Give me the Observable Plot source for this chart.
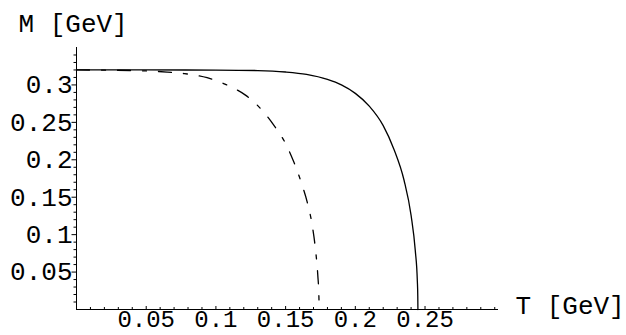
<!DOCTYPE html>
<html>
<head>
<meta charset="utf-8">
<script src="https://cdn.jsdelivr.net/npm/d3@7"></script>
<script src="https://cdn.jsdelivr.net/npm/@observablehq/plot@0.6"></script>
<style>
  html, body { margin: 0; padding: 0; background: white; }
  svg { display: block; }
</style>
</head>
<body>
<div id="chart"></div>
<script>
// Solid curve: T [GeV] -> M [GeV]
const solidT = [0, 0.05, 0.10, 0.13, 0.15, 0.165, 0.18, 0.19, 0.20, 0.21, 0.22, 0.2276, 0.235, 0.24, 0.243, 0.2445, 0.2448, 0.2449];
const solidM = [0.32, 0.32, 0.3198, 0.3192, 0.3173, 0.314, 0.3073, 0.300, 0.2887, 0.2717, 0.2457, 0.2145, 0.1723, 0.1257, 0.079, 0.0375, 0.018, 0];
// Dash-dot curve
const dashT = [0, 0.02, 0.04, 0.055, 0.065, 0.077, 0.0937, 0.108, 0.1212, 0.132, 0.1415, 0.15, 0.1559, 0.1619, 0.1655, 0.1691, 0.1714, 0.1731, 0.1738, 0.1741];
const dashM = [0.32, 0.3198, 0.3192, 0.3183, 0.3172, 0.3152, 0.3097, 0.2998, 0.2864, 0.2685, 0.2462, 0.2216, 0.197, 0.1658, 0.1434, 0.1122, 0.0808, 0.0452, 0.022, 0];

// Ticks
const xTicks = [0.05, 0.1, 0.15, 0.2, 0.25];
const xTickLabels = ["0.05", "0.1", "0.15", "0.2", "0.25"];
const yTicks = [0.05, 0.1, 0.15, 0.2, 0.25, 0.3];
const yTickLabels = ["0.05", "0.1", "0.15", "0.2", "0.25", "0.3"];
const xMinor = [0.01, 0.02, 0.03, 0.04, 0.06, 0.07, 0.08, 0.09, 0.11, 0.12, 0.13, 0.14, 0.16, 0.17, 0.18, 0.19, 0.21, 0.22, 0.23, 0.24, 0.26, 0.27, 0.28, 0.29, 0.3];
const yMinor = [0.01, 0.02, 0.03, 0.04, 0.06, 0.07, 0.08, 0.09, 0.11, 0.12, 0.13, 0.14, 0.16, 0.17, 0.18, 0.19, 0.21, 0.22, 0.23, 0.24, 0.26, 0.27, 0.28, 0.29, 0.31, 0.32, 0.33, 0.34];

const xLabel = "T [GeV]";
const yLabel = "M [GeV]";

const solid = solidT.map((t, i) => ({T: t, M: solidM[i]}));
const dashed = dashT.map((t, i) => ({T: t, M: dashM[i]}));

const W = 626, H = 335;
const mL = 76, mR = 128, mT = 47, mB = 26;
const pw = W - mL - mR, ph = H - mT - mB;
const font = "'Liberation Mono', 'DejaVu Sans Mono', monospace";

const chart = Plot.plot({
  width: W,
  height: H,
  marginLeft: mL,
  marginRight: mR,
  marginTop: mT,
  marginBottom: mB,
  x: {domain: [0, 0.3027]},
  y: {domain: [0, 0.35]},
  style: {fontFamily: font, fontSize: "26px", background: "white", overflow: "visible", color: "black"},
  marks: [
    // axis lines
    Plot.ruleX([0], {stroke: "black", strokeWidth: 1}),
    Plot.ruleY([0], {stroke: "black", strokeWidth: 1}),
    // y ticks (pointing left)
    Plot.tickY(yMinor, {y: d => d, insetLeft: -2.5, insetRight: pw, stroke: "black", strokeWidth: 1}),
    Plot.tickY(yTicks, {y: d => d, insetLeft: -4.5, insetRight: pw, stroke: "black", strokeWidth: 1}),
    // x ticks (pointing up)
    Plot.tickX(xMinor, {x: d => d, insetTop: ph - 2, stroke: "black", strokeWidth: 1}),
    Plot.tickX(xTicks, {x: d => d, insetTop: ph - 3, stroke: "black", strokeWidth: 1}),
    // tick labels
    Plot.axisY(yTicks, {tickSize: 0, tickPadding: 4, label: null, fontSize: 26, fill: "black",
      tickFormat: d => yTickLabels[yTicks.indexOf(d)]}),
    Plot.axisX(xTicks, {tickSize: 0, tickPadding: 0.5, label: null, fontSize: 24, fill: "black",
      tickFormat: d => xTickLabels[xTicks.indexOf(d)]}),
    // curves
    Plot.line(solid, {x: "T", y: "M", stroke: "black", strokeWidth: 1.3, curve: "monotone-x"}),
    Plot.line(dashed, {x: "T", y: "M", stroke: "black", strokeWidth: 1.3, curve: "monotone-x",
      strokeDasharray: "13,12,4,12"}),
    // axis titles
    Plot.text([yLabel], {text: d => d, frameAnchor: "top-left", dx: -58, dy: -23.6,
      textAnchor: "start", lineAnchor: "middle", fontSize: 26, fill: "black"}),
    Plot.text([xLabel], {text: d => d, frameAnchor: "bottom-right", dx: 17, dy: -3.6,
      textAnchor: "start", lineAnchor: "middle", fontSize: 26, fill: "black"})
  ]
});

document.getElementById("chart").appendChild(chart);
</script>
</body>
</html>
